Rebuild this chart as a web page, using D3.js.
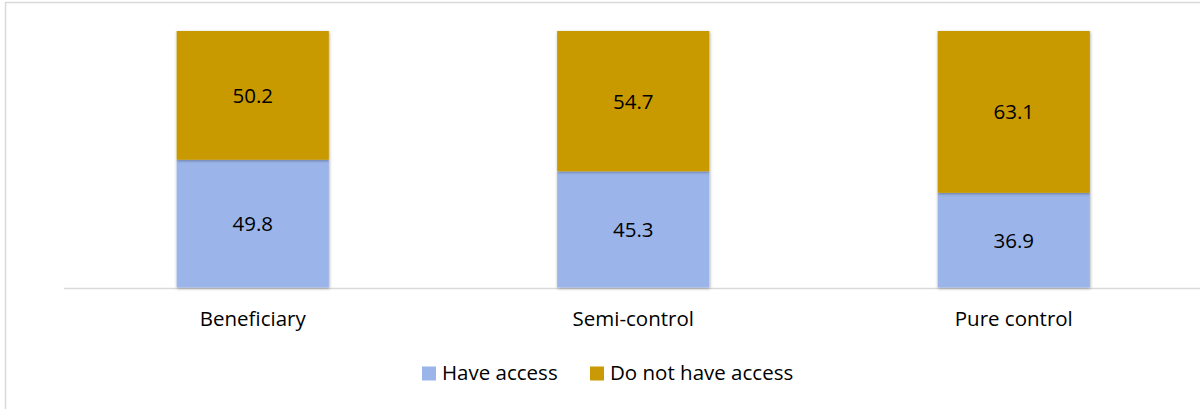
<!DOCTYPE html>
<html>
<head>
<meta charset="utf-8">
<script src="https://cdn.jsdelivr.net/npm/d3@7"></script>
<style>
  html, body { margin: 0; padding: 0; background: #fff; }
  svg { display: block; }
</style>
</head>
<body>
<svg id="chart" width="1200" height="409"></svg>
<script>
// Share of households by access status, per study group (percent)
const categories = ["Beneficiary", "Semi-control", "Pure control"];
const haveAccess = [49.8, 45.3, 36.9];
const noAccess = [50.2, 54.7, 63.1];
const seriesNames = ["Have access", "Do not have access"];
const seriesColors = ["#9bb5ea", "#c99a05"];

const svg = d3.select("#chart");
const font = "'Open Sans', sans-serif";
const fontSize = "20.5px";

// Chart frame (right/bottom edges fall outside the view)
svg.append("rect")
  .attr("x", 5.5).attr("y", 2.5)
  .attr("width", 1210).attr("height", 420)
  .attr("fill", "#fff").attr("stroke", "#d9d9d9").attr("stroke-width", 1.5);

const defs = svg.append("defs");
const shadow = defs.append("filter").attr("id", "shadow")
  .attr("x", "-10%").attr("y", "-10%").attr("width", "120%").attr("height", "120%");
shadow.append("feDropShadow")
  .attr("dx", 0.5).attr("dy", 1).attr("stdDeviation", 1.6)
  .attr("flood-color", "#000").attr("flood-opacity", 0.35);

const x = d3.scaleBand().domain(categories).range([62.5, 1204]).paddingInner(0.6).paddingOuter(0.3);
const y = d3.scaleLinear().domain([0, 100]).range([287.5, 31]);

const rows = categories.map((c, i) => ({ cat: c, have: haveAccess[i], not: noAccess[i] }));
const stack = d3.stack().keys(["have", "not"])(rows);

// Category axis baseline
svg.append("line")
  .attr("x1", 64).attr("x2", 1200)
  .attr("y1", 288.5).attr("y2", 288.5)
  .attr("stroke", "#d9d9d9").attr("stroke-width", 1.5);

const layers = svg.selectAll("g.layer").data(stack).join("g")
  .attr("class", "layer")
  .attr("fill", (d, i) => seriesColors[i]);

layers.selectAll("rect").data(d => d).join("rect")
  .attr("x", d => x(d.data.cat))
  .attr("width", x.bandwidth())
  .attr("y", d => y(d[1]))
  .attr("height", d => y(d[0]) - y(d[1]))
  .attr("filter", "url(#shadow)");

// Value labels centred in each segment
layers.selectAll("text").data(d => d.map(v => ({ v, key: d.key }))).join("text")
  .attr("x", d => x(d.v.data.cat) + x.bandwidth() / 2)
  .attr("y", d => (y(d.v[0]) + y(d.v[1])) / 2)
  .attr("dy", "0.36em")
  .attr("text-anchor", "middle")
  .attr("fill", "#000")
  .style("font-family", font).style("font-size", fontSize)
  .text(d => d.v.data[d.key].toFixed(1));

// Category labels
const xAxis = d3.axisBottom(x).tickSize(0).tickPadding(0);
const ax = svg.append("g").attr("transform", "translate(0,288)").call(xAxis);
ax.select(".domain").remove();
ax.selectAll("text")
  .attr("y", 38)
  .attr("dy", 0)
  .attr("fill", "#000")
  .style("font-family", font).style("font-size", fontSize);

// Legend
const legendItems = [
  { name: seriesNames[0], color: seriesColors[0], x: 422 },
  { name: seriesNames[1], color: seriesColors[1], x: 590 }
];
const lg = svg.append("g").selectAll("g").data(legendItems).join("g")
  .attr("transform", d => `translate(${d.x},366.5)`);
lg.append("rect").attr("width", 14).attr("height", 14).attr("fill", d => d.color);
lg.append("text")
  .attr("x", 20).attr("y", 13)
  .attr("fill", "#000")
  .style("font-family", font).style("font-size", fontSize)
  .text(d => d.name);
</script>
</body>
</html>
